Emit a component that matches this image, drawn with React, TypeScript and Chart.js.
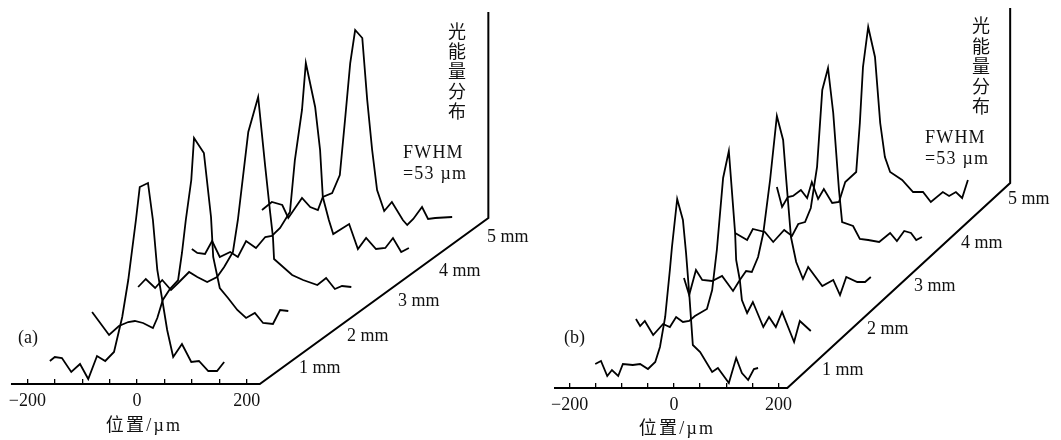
import React, { useEffect, useRef } from "react";
import { Chart, registerables } from "chart.js";

Chart.register(...registerables);

// Panel (a): position (um) and light energy (a.u.) at each focal depth
const aPos1 = [-159,-150,-137,-120,-104,-89,-73,-58,-42,-27,-16,-2,5,20,29,37,47,55,66,82,99,113,130,146,159];
const aInt1 = [23,27,26,12,20,5,28,23,32,67,104,164,197,201,164,114,81,54,27,40,22,23,13,13,22];
const aPos2 = [-182,-151,-133,-116,-104,-89,-71,-63,-53,-40,-25,-18,-11,-1,4,22,35,39,51,66,83,99,115,130,148,161,176];
const aInt2 = [33,10,19,23,24,22,17,27,45,56,65,92,125,165,207,192,128,88,57,47,35,27,32,22,21,35,34];
const aPos3 = [-198,-184,-167,-154,-138,-125,-105,-90,-72,-54,-41,-25,-16,3,21,24,34,43,48,50,83,103,129,145,161,174,191];
const aInt3 = [19,27,18,26,16,23,34,29,24,29,39,54,86,174,209,193,139,93,69,47,31,26,21,28,17,20,19];
const aPos4 = [-200,-190,-176,-163,-149,-130,-116,-101,-83,-66,-54,-39,-21,-12,1,8,25,34,39,50,58,87,103,118,136,153,167,182,196];
const aInt4 = [18,14,13,26,10,15,10,26,19,30,31,39,55,107,157,204,160,117,70,47,33,43,18,29,18,19,29,15,19];
const aPos5 = [-172,-154,-135,-124,-99,-84,-70,-61,-44,-30,-20,-11,-2,11,20,29,38,51,65,85,93,104,120,131,144,175];
const aInt5 = [18,26,23,10,30,21,18,31,35,53,111,165,198,190,128,78,38,17,26,8,3,9,21,9,10,11];

// Panel (b)
const bPos1 = [-151,-140,-128,-119,-107,-98,-79,-65,-50,-36,-27,-17,-8,-4,6,17,23,29,36,50,73,84,105,119,130,142,153,161];
const bInt1 = [24,27,12,18,12,24,23,24,19,26,41,71,118,141,189,168,135,95,43,36,16,20,5,30,15,8,19,20];
const bPos2 = [-165,-157,-148,-132,-113,-100,-88,-75,-63,-52,-29,-19,-10,2,13,25,27,34,38,48,59,79,90,103,115,138,149,170];
const bInt2 = [25,18,23,9,20,17,27,22,23,28,35,54,94,166,193,111,84,64,44,31,42,17,27,17,32,2,23,13];
const bPos3 = [-165,-155,-142,-130,-111,-92,-71,-58,-46,-35,-23,-13,0,13,25,31,40,50,63,73,100,121,134,146,167,182,193];
const bInt3 = [22,5,30,20,19,24,9,20,29,28,43,67,120,184,160,120,63,38,21,33,14,20,5,23,18,18,23];
const bPos4 = [-159,-136,-125,-102,-86,-65,-50,-38,-25,-14,-2,8,19,29,40,46,67,80,96,117,138,151,165,178,188,199];
const bInt4 = [23,16,27,24,14,26,20,32,34,48,89,166,188,143,66,34,30,17,16,14,23,15,25,23,16,19];
const bPos5 = [-171,-161,-150,-140,-125,-113,-104,-92,-81,-65,-52,-40,-19,-12,-6,4,17,27,36,46,69,90,109,124,147,159,172,184,195];
const bInt5 = [25,5,15,16,22,14,30,13,23,9,10,30,40,89,145,185,155,89,55,40,32,20,20,10,20,16,20,14,32];

// Axis frame of each panel (position, height)
const aFrameX = [-230, 224, 641, 641];
const aFrameY = [0, 0, 166, 372];
const bFrameX = [-230, 217, 644, 644];
const bFrameY = [0, 0, 205, 380];

const positionTicks = [-200,-150,-100,-50,0,50,100,150,200];
const labelledTicks: Record<number, string> = { "-200": "\u2212200", 0: "0", 200: "200" };
const depthLabels = ["1 mm", "2 mm", "3 mm", "4 mm", "5 mm"];
const axisTitle = "位置/µm";
const yTitle = ["光", "能", "量", "分", "布"];
const fwhm = ["FWHM", "=53 µm"];

const SERIF = '"Liberation Serif", "Noto Sans CJK SC", serif';

type Panel = {
  left: number; width: number; baseline: number; xMin: number; xMax: number;
  depthDx: number; depthDy: number;
  traces: [number[], number[]][];
  frameX: number[]; frameY: number[];
  tag: string; tagAt: [number, number];
  titleAt: [number, number];
  depthAt: [number, number][];
  fwhmAt: [number, number][];
  yTitleX: number; yTitleYs: number[];
  tickPad: number;
};

const panelA: Panel = {
  left: 0, width: 530, baseline: 384, xMin: -250, xMax: 717,
  depthDx: 100, depthDy: 39,
  traces: [[aPos1,aInt1],[aPos2,aInt2],[aPos3,aInt3],[aPos4,aInt4],[aPos5,aInt5]],
  frameX: aFrameX, frameY: aFrameY,
  tag: "(a)", tagAt: [18, 338], titleAt: [144, 426],
  depthAt: [[299,368],[347,336],[398,301],[439,271],[487,237]],
  fwhmAt: [[403,153],[403,174]],
  yTitleX: 457, yTitleYs: [33,53,73,93,113], tickPad: 11,
};

const panelB: Panel = {
  left: 530, width: 531, baseline: 388, xMin: -276, xMax: 741.4,
  depthDx: 92, depthDy: 44,
  traces: [[bPos1,bInt1],[bPos2,bInt2],[bPos3,bInt3],[bPos4,bInt4],[bPos5,bInt5]],
  frameX: bFrameX, frameY: bFrameY,
  tag: "(b)", tagAt: [34, 338], titleAt: [147, 429],
  depthAt: [[292,370],[337,329],[384,286],[431,243],[478,199]],
  fwhmAt: [[395,138],[395,159]],
  yTitleX: 451, yTitleYs: [27,48,68,88,108], tickPad: 11,
};

function PanelChart({ panel }: { panel: Panel }) {
  const ref = useRef<HTMLCanvasElement>(null);
  useEffect(() => {
    const p = panel;
    const traceSets = p.traces.map(([pos, int], depth) => ({
      data: pos.map((v, i) => ({ x: v + depth * p.depthDx, y: int[i] + depth * p.depthDy })),
      showLine: true, pointRadius: 0, borderColor: "#000", borderWidth: 1.8, tension: 0, clip: false,
    }));
    const frame = {
      data: p.frameX.map((v, i) => ({ x: v, y: p.frameY[i] })),
      showLine: true, pointRadius: 0, borderColor: "#000", borderWidth: 2, tension: 0, clip: false,
    };
    const textPlugin = {
      id: "panelText",
      afterDraw(chart: any) {
        const c = chart.ctx;
        c.save();
        c.fillStyle = "#111";
        c.textBaseline = "middle";
        c.font = `18px ${SERIF}`;
        c.textAlign = "left";
        c.fillText(p.tag, p.tagAt[0], p.tagAt[1]);
        depthLabels.forEach((t, i) => c.fillText(t, p.depthAt[i][0], p.depthAt[i][1]));
        c.letterSpacing = "1.2px";
        fwhm.forEach((t, i) => c.fillText(t, p.fwhmAt[i][0], p.fwhmAt[i][1]));
        c.textAlign = "center";
        c.letterSpacing = "2.2px";
        c.fillText(axisTitle, p.titleAt[0], p.titleAt[1]);
        c.letterSpacing = "0px";
        yTitle.forEach((t, i) => c.fillText(t, p.yTitleX, p.yTitleYs[i]));
        c.restore();
      },
    };
    const chart = new Chart(ref.current as HTMLCanvasElement, {
      type: "scatter",
      data: { datasets: [frame, ...traceSets] as any },
      plugins: [textPlugin],
      options: {
        animation: false,
        responsive: false,
        layout: { padding: 0 },
        plugins: { legend: { display: false }, title: { display: false }, tooltip: { enabled: false } },
        scales: {
          x: {
            type: "linear",
            min: p.xMin,
            max: p.xMax,
            afterBuildTicks(scale: any) {
              scale.ticks = positionTicks.map((value) => ({ value }));
            },
            afterFit(scale: any) {
              scale.height = 440 - p.baseline;
              scale.paddingLeft = 0;
              scale.paddingRight = 0;
            },
            border: { display: false },
            grid: { drawOnChartArea: false, drawTicks: true, tickLength: -5, color: "#000", lineWidth: 1.3 },
            ticks: {
              autoSkip: false,
              maxRotation: 0,
              minRotation: 0,
              padding: p.tickPad,
              color: "#111",
              font: { family: SERIF, size: 18 },
              callback: (v: any) => labelledTicks[v as number] ?? "",
            },
          },
          y: { type: "linear", display: false, min: 0, max: p.baseline },
        },
      } as any,
    });
    return () => chart.destroy();
  }, [panel]);
  return (
    <canvas
      ref={ref}
      width={panel.width}
      height={440}
      style={{ position: "absolute", left: panel.left, top: 0, width: panel.width, height: 440, display: "block" }}
    />
  );
}

export default function App() {
  return (
    <div style={{ position: "absolute", left: 0, top: 0, width: 1061, height: 440, background: "#fff", overflow: "hidden" }}>
      <PanelChart panel={panelA} />
      <PanelChart panel={panelB} />
    </div>
  );
}
